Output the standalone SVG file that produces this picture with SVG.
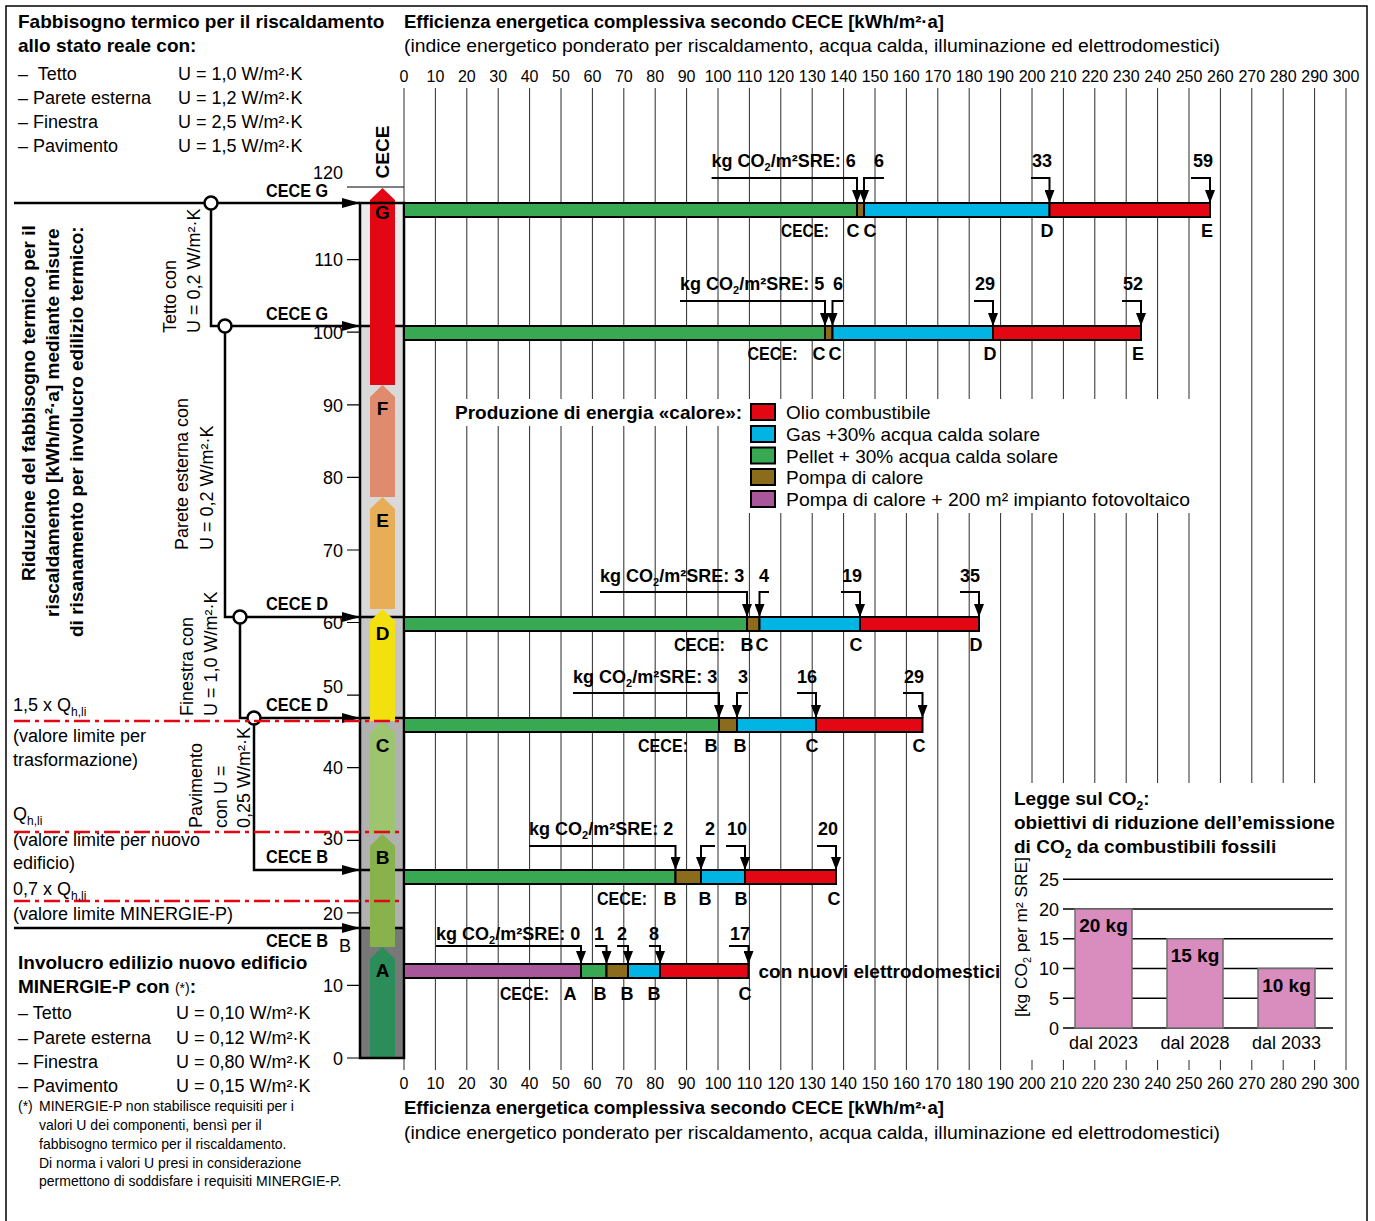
<svg xmlns="http://www.w3.org/2000/svg" width="1375" height="1221" viewBox="0 0 1375 1221">
<style>
text{font-family:"Liberation Sans",Arial,sans-serif;fill:#000}
.b{font-weight:bold}
.r18{font-size:18px}
.b19{font-size:19px;font-weight:bold}
.ax{font-size:16px;text-anchor:middle}
.tk{font-size:18px;text-anchor:end}
.grid{stroke:#2b2b2b;stroke-width:1;fill:none}
.arr{stroke:#000;stroke-width:2.5;fill:none}
.brk{stroke:#000;stroke-width:2;fill:none}
.bar{stroke:#000;stroke-width:2}
.red{fill:#e30613}.blu{fill:#00b4e3}.grn{fill:#38a852}.brn{fill:#8b6c1c}.pur{fill:#a9579b}
.dash{stroke:#e30613;stroke-width:2.5;stroke-dasharray:16 5 4 5;fill:none}
.kg{font-size:18px;font-weight:bold}
.lt{font-size:18px;font-weight:bold;text-anchor:middle}
.ce{font-size:18px;font-weight:bold}
.sub{font-size:11px}
.circ{fill:#fff;stroke:#000;stroke-width:2.5}
.co2bar{fill:#d98dbf;stroke:#6e6e6e;stroke-width:1.5}
</style>
<defs>
<marker id="ah" markerUnits="userSpaceOnUse" viewBox="0 0 18 10" refX="18" refY="5" markerWidth="18" markerHeight="10" orient="auto"><path d="M0,0L18,5L0,10z" fill="#000"/></marker>
<marker id="dn" markerUnits="userSpaceOnUse" viewBox="0 0 13 10" refX="13" refY="5" markerWidth="13" markerHeight="10" orient="auto"><path d="M0,0L13,5L0,10z" fill="#000"/></marker>
</defs>
<rect x="6" y="6" width="1361" height="1230" fill="#fff" stroke="#000" stroke-width="1.5"/>

<g id="grid">
<path class="grid" d="M404 88V1070M435.4 88V1070M466.8 88V1070M498.2 88V1070M529.6 88V1070M561 88V1070M592.4 88V1070M623.8 88V1070M655.2 88V1070M686.6 88V1070M718 88V1070M749.4 88V1070M780.8 88V1070M812.2 88V1070M843.6 88V1070M875 88V1070M906.4 88V1070M937.8 88V1070M969.2 88V1070M1000.6 88V1070M1032 88V1070M1063.4 88V1070M1094.8 88V1070M1126.2 88V1070M1157.6 88V1070M1189 88V1070M1220.4 88V1070M1251.8 88V1070M1283.2 88V1070M1314.6 88V1070M1346 88V1070"/>
<rect x="449" y="399" width="300" height="27" fill="#fff"/>
<rect x="745" y="399" width="452" height="114" fill="#fff"/>
<rect x="1004" y="783" width="340" height="277" fill="#fff"/>
</g>

<g id="axis-top">
<text class="b" x="404" y="28" font-size="18" textLength="540" lengthAdjust="spacingAndGlyphs">Efficienza energetica complessiva secondo CECE [kWh/m²·a]</text>
<text x="404" y="52" font-size="18" textLength="816" lengthAdjust="spacingAndGlyphs">(indice energetico ponderato per riscaldamento, acqua calda, illuminazione ed elettrodomestici)</text>
<g class="ax">
<text x="404" y="82">0</text><text x="435.4" y="82">10</text><text x="466.8" y="82">20</text><text x="498.2" y="82">30</text><text x="529.6" y="82">40</text><text x="561" y="82">50</text><text x="592.4" y="82">60</text><text x="623.8" y="82">70</text><text x="655.2" y="82">80</text><text x="686.6" y="82">90</text><text x="718" y="82">100</text><text x="749.4" y="82">110</text><text x="780.8" y="82">120</text><text x="812.2" y="82">130</text><text x="843.6" y="82">140</text><text x="875" y="82">150</text><text x="906.4" y="82">160</text><text x="937.8" y="82">170</text><text x="969.2" y="82">180</text><text x="1000.6" y="82">190</text><text x="1032" y="82">200</text><text x="1063.4" y="82">210</text><text x="1094.8" y="82">220</text><text x="1126.2" y="82">230</text><text x="1157.6" y="82">240</text><text x="1189" y="82">250</text><text x="1220.4" y="82">260</text><text x="1251.8" y="82">270</text><text x="1283.2" y="82">280</text><text x="1314.6" y="82">290</text><text x="1346" y="82">300</text>
</g>
</g>

<g id="axis-bottom">
<g class="ax">
<text x="404" y="1089">0</text><text x="435.4" y="1089">10</text><text x="466.8" y="1089">20</text><text x="498.2" y="1089">30</text><text x="529.6" y="1089">40</text><text x="561" y="1089">50</text><text x="592.4" y="1089">60</text><text x="623.8" y="1089">70</text><text x="655.2" y="1089">80</text><text x="686.6" y="1089">90</text><text x="718" y="1089">100</text><text x="749.4" y="1089">110</text><text x="780.8" y="1089">120</text><text x="812.2" y="1089">130</text><text x="843.6" y="1089">140</text><text x="875" y="1089">150</text><text x="906.4" y="1089">160</text><text x="937.8" y="1089">170</text><text x="969.2" y="1089">180</text><text x="1000.6" y="1089">190</text><text x="1032" y="1089">200</text><text x="1063.4" y="1089">210</text><text x="1094.8" y="1089">220</text><text x="1126.2" y="1089">230</text><text x="1157.6" y="1089">240</text><text x="1189" y="1089">250</text><text x="1220.4" y="1089">260</text><text x="1251.8" y="1089">270</text><text x="1283.2" y="1089">280</text><text x="1314.6" y="1089">290</text><text x="1346" y="1089">300</text>
</g>
<text class="b" x="404" y="1114" font-size="18" textLength="540" lengthAdjust="spacingAndGlyphs">Efficienza energetica complessiva secondo CECE [kWh/m²·a]</text>
<text x="404" y="1139" font-size="18" textLength="816" lengthAdjust="spacingAndGlyphs">(indice energetico ponderato per riscaldamento, acqua calda, illuminazione ed elettrodomestici)</text>
</g>

<g id="title-left">
<text class="b19" x="18" y="28">Fabbisogno termico per il riscaldamento</text>
<text class="b19" x="18" y="52">allo stato reale con:</text>
<g class="r18">
<text x="18" y="80">–&#160; Tetto</text><text x="178" y="80">U = 1,0 W/m²·K</text>
<text x="18" y="104">– Parete esterna</text><text x="178" y="104">U = 1,2 W/m²·K</text>
<text x="18" y="127.5">– Finestra</text><text x="178" y="127.5">U = 2,5 W/m²·K</text>
<text x="18" y="151.5">– Pavimento</text><text x="178" y="151.5">U = 1,5 W/m²·K</text>
</g>
</g>

<g id="title-vertical">
<text class="b19" transform="translate(34.5,581) rotate(-90)">Riduzione del fabbisogno termico per il</text>
<text class="b19" transform="translate(58.5,617) rotate(-90)">riscaldamento [kWh/m²·a] mediante misure</text>
<text class="b19" transform="translate(82.5,637) rotate(-90)">di risanamento per involucro edilizio termico:</text>
</g>

<g id="column">
<rect x="360" y="203" width="44" height="123" fill="#ebebeb"/>
<rect x="360" y="326" width="44" height="291" fill="#d9d9d9"/>
<rect x="360" y="617" width="44" height="101" fill="#c6c6c6"/>
<rect x="360" y="718" width="44" height="210" fill="#b1b1b1"/>
<rect x="360" y="928" width="44" height="130" fill="#787878"/>
<path d="M360 326H404M360 617H404M360 718H404M360 870H404M360 928H404" stroke="#000" stroke-width="2.5"/>
<polygon points="370,200 382.5,188 395,200 395,385 370,385" fill="#e30613"/>
<polygon points="370,397 382.5,385 395,397 395,497 370,497" fill="#e08b6e"/>
<polygon points="370,509 382.5,497 395,509 395,609 370,609" fill="#e8ae57"/>
<polygon points="370,621 382.5,609 395,621 395,721 370,721" fill="#f2e10f"/>
<polygon points="370,733 382.5,721 395,733 395,834 370,834" fill="#9dc56f"/>
<polygon points="370,846 382.5,834 395,846 395,947 370,947" fill="#88b24c"/>
<polygon points="370,959 382.5,947 395,959 395,1057 370,1057" fill="#2a8d5a"/>
<rect x="360" y="203" width="44" height="855" fill="none" stroke="#000" stroke-width="2.5"/>
<g class="b19" text-anchor="middle">
<text x="382.5" y="219">G</text><text x="382.5" y="415">F</text><text x="382.5" y="527">E</text><text x="382.5" y="640">D</text><text x="382.5" y="752">C</text><text x="382.5" y="864">B</text><text x="382.5" y="977">A</text>
</g>
<text class="b19" transform="translate(389,152) rotate(-90)" text-anchor="middle">CECE</text>
<path d="M347 187H404M347 259.6H360M347 332.2H360M347 404.8H360M347 477.4H360M347 550H360M347 622.5H360M347 695.1H360M347 767.7H360M347 840.3H360M347 912.8H360M347 985.4H360M347 1058H360" stroke="#000" stroke-width="1.2"/>
<g class="tk">
<text x="343" y="179">120</text><text x="343" y="266">110</text><text x="343" y="339">100</text><text x="343" y="411.5">90</text><text x="343" y="484">80</text><text x="343" y="556.5">70</text><text x="343" y="629">60</text><text x="343" y="693">50</text><text x="343" y="774">40</text><text x="343" y="845">30</text><text x="343" y="919.5">20</text><text x="343" y="992">10</text><text x="343" y="1064.5">0</text>
</g>
</g>

<g id="connectors">
<path class="arr" d="M14 203H360" marker-end="url(#ah)"/>
<path class="arr" d="M211 203V326H360" marker-end="url(#ah)"/>
<path class="arr" d="M225 326V617H360" marker-end="url(#ah)"/>
<path class="arr" d="M240 617V718H360" marker-end="url(#ah)"/>
<path class="arr" d="M254 718V870H360" marker-end="url(#ah)"/>
<path class="arr" d="M14 928H360" marker-end="url(#ah)"/>
<circle class="circ" cx="211" cy="203" r="6.5"/>
<circle class="circ" cx="225" cy="326" r="6.5"/>
<circle class="circ" cx="240" cy="617" r="6.5"/>
<circle class="circ" cx="254" cy="718" r="6.5"/>
<path class="dash" d="M14 721H404M14 832H404M14 901H404"/>
<g class="brk" marker-end="url(#dn)">
<path d="M711.6 178H857V203"/><path d="M884 178H864V203"/><path d="M1031 178H1049.5V203"/><path d="M1191 178H1210V203"/>
<path d="M680 301H825V326"/><path d="M843 301H832.5V326"/><path d="M974 301H993V326"/><path d="M1122 301H1141V326"/>
<path d="M600 592H747V617"/><path d="M769 592H759.5V617"/><path d="M841 592H860V617"/><path d="M960 592H979V617"/>
<path d="M573 693H719V718"/><path d="M748 693H737V718"/><path d="M797 693H816V718"/><path d="M903 693H922.5V718"/>
<path d="M529 846H675.5V870"/><path d="M715 846H701V870"/><path d="M726 846H745V870"/><path d="M817 846H836V870"/>
<path d="M436 946H581V964"/><path d="M595 946H606.5V964"/><path d="M617 946H628V964"/><path d="M649 946H660V964"/><path d="M729 946H748.5V964"/>
</g>
</g>

<g id="labels-left">
<g class="ce">
<text x="328" y="197" text-anchor="end" textLength="62" lengthAdjust="spacingAndGlyphs">CECE G</text>
<text x="328" y="320" text-anchor="end" textLength="62" lengthAdjust="spacingAndGlyphs">CECE G</text>
<text x="328" y="610" text-anchor="end" textLength="62" lengthAdjust="spacingAndGlyphs">CECE D</text>
<text x="328" y="711" text-anchor="end" textLength="62" lengthAdjust="spacingAndGlyphs">CECE D</text>
<text x="328" y="863" text-anchor="end" textLength="62" lengthAdjust="spacingAndGlyphs">CECE B</text>
<text x="328" y="947" text-anchor="end" textLength="62" lengthAdjust="spacingAndGlyphs">CECE B</text>
</g>
<text class="r18" x="345" y="952" text-anchor="middle">B</text>
<g class="r18">
<text transform="translate(176,333) rotate(-90)">Tetto con</text>
<text transform="translate(200,333) rotate(-90)">U = 0,2 W/m²·K</text>
<text transform="translate(188,550) rotate(-90)">Parete esterna con</text>
<text transform="translate(213,550) rotate(-90)">U = 0,2 W/m²·K</text>
<text transform="translate(193,716) rotate(-90)">Finestra con</text>
<text transform="translate(217,716) rotate(-90)">U = 1,0 W/m²·K</text>
<text transform="translate(202,828) rotate(-90)">Pavimento</text>
<text transform="translate(227,828) rotate(-90)">con U =</text>
<text transform="translate(250,828) rotate(-90)">0,25 W/m²·K</text>
<text x="13" y="711">1,5 x Q<tspan font-size="12" dy="5">h,li</tspan></text>
<text x="13" y="742">(valore limite per</text>
<text x="13" y="766">trasformazione)</text>
<text x="13" y="820">Q<tspan font-size="12" dy="5">h,li</tspan></text>
<text x="13" y="846">(valore limite per nuovo</text>
<text x="13" y="869">edificio)</text>
<text x="13" y="894.5">0,7 x Q<tspan font-size="12" dy="5">h,li</tspan></text>
<text x="13" y="919.5">(valore limite MINERGIE-P)</text>
</g>
</g>

<g id="minergie">
<text class="b19" x="18" y="969">Involucro edilizio nuovo edificio</text>
<text class="b19" x="18" y="993">MINERGIE-P con <tspan font-weight="normal" font-size="14">(*)</tspan>:</text>
<g class="r18">
<text x="18" y="1019">– Tetto</text><text x="176" y="1019">U = 0,10 W/m²·K</text>
<text x="18" y="1043.5">– Parete esterna</text><text x="176" y="1043.5">U = 0,12 W/m²·K</text>
<text x="18" y="1068">– Finestra</text><text x="176" y="1068">U = 0,80 W/m²·K</text>
<text x="18" y="1092">– Pavimento</text><text x="176" y="1092">U = 0,15 W/m²·K</text>
</g>
<g font-size="14">
<text x="18" y="1111">(*)</text>
<text x="39" y="1111">MINERGIE-P non stabilisce requisiti per i</text>
<text x="39" y="1130">valori U dei componenti, bensì per il</text>
<text x="39" y="1149">fabbisogno termico per il riscaldamento.</text>
<text x="39" y="1167.5">Di norma i valori U presi in considerazione</text>
<text x="39" y="1186">permettono di soddisfare i requisiti MINERGIE-P.</text>
</g>
</g>

<g id="bar-1">
<rect class="bar grn" x="404" y="203" width="453" height="14"/>
<rect class="bar brn" x="857" y="203" width="7" height="14"/>
<rect class="bar blu" x="864" y="203" width="185.5" height="14"/>
<rect class="bar red" x="1049.5" y="203" width="160.5" height="14"/>
<text class="kg" x="711.6" y="167">kg CO<tspan class="sub" dy="4">2</tspan><tspan dy="-4">/m²SRE: 6</tspan></text>
<g class="lt"><text x="879" y="167">6</text><text x="1042" y="167">33</text><text x="1203" y="167">59</text>
<text x="853" y="237">C</text><text x="870" y="237">C</text><text x="1047" y="237">D</text><text x="1207" y="237">E</text></g>
<text class="ce" x="781" y="237" textLength="48" lengthAdjust="spacingAndGlyphs">CECE:</text>
</g>

<g id="bar-2">
<rect class="bar grn" x="404" y="326" width="421" height="14"/>
<rect class="bar brn" x="825" y="326" width="7.5" height="14"/>
<rect class="bar blu" x="832.5" y="326" width="160.5" height="14"/>
<rect class="bar red" x="993" y="326" width="148" height="14"/>
<text class="kg" x="680" y="290">kg CO<tspan class="sub" dy="4">2</tspan><tspan dy="-4">/m²SRE: 5</tspan></text>
<g class="lt"><text x="838" y="290">6</text><text x="985" y="290">29</text><text x="1133" y="290">52</text>
<text x="819" y="360">C</text><text x="835" y="360">C</text><text x="990" y="360">D</text><text x="1138" y="360">E</text></g>
<text class="ce" x="747.5" y="360" textLength="50" lengthAdjust="spacingAndGlyphs">CECE:</text>
</g>

<g id="bar-3">
<rect class="bar grn" x="404" y="617" width="343" height="14"/>
<rect class="bar brn" x="747" y="617" width="12.5" height="14"/>
<rect class="bar blu" x="759.5" y="617" width="100.5" height="14"/>
<rect class="bar red" x="860" y="617" width="119" height="14"/>
<text class="kg" x="600" y="582">kg CO<tspan class="sub" dy="4">2</tspan><tspan dy="-4">/m²SRE: 3</tspan></text>
<g class="lt"><text x="764" y="582">4</text><text x="852" y="582">19</text><text x="970" y="582">35</text>
<text x="747" y="651">B</text><text x="762" y="651">C</text><text x="856" y="651">C</text><text x="976" y="651">D</text></g>
<text class="ce" x="674" y="651" textLength="51" lengthAdjust="spacingAndGlyphs">CECE:</text>
</g>

<g id="bar-4">
<rect class="bar grn" x="404" y="718" width="315" height="14"/>
<rect class="bar brn" x="719" y="718" width="18" height="14"/>
<rect class="bar blu" x="737" y="718" width="79" height="14"/>
<rect class="bar red" x="816" y="718" width="106.5" height="14"/>
<text class="kg" x="573" y="683">kg CO<tspan class="sub" dy="4">2</tspan><tspan dy="-4">/m²SRE: 3</tspan></text>
<g class="lt"><text x="743" y="683">3</text><text x="807" y="683">16</text><text x="914" y="683">29</text>
<text x="711" y="752">B</text><text x="740" y="752">B</text><text x="812" y="752">C</text><text x="919" y="752">C</text></g>
<text class="ce" x="638" y="752" textLength="50" lengthAdjust="spacingAndGlyphs">CECE:</text>
</g>

<g id="bar-5">
<rect class="bar grn" x="404" y="870" width="271.5" height="14"/>
<rect class="bar brn" x="675.5" y="870" width="25.5" height="14"/>
<rect class="bar blu" x="701" y="870" width="44" height="14"/>
<rect class="bar red" x="745" y="870" width="91" height="14"/>
<text class="kg" x="529" y="835">kg CO<tspan class="sub" dy="4">2</tspan><tspan dy="-4">/m²SRE: 2</tspan></text>
<g class="lt"><text x="710" y="835">2</text><text x="737" y="835">10</text><text x="828" y="835">20</text>
<text x="670" y="905">B</text><text x="705" y="905">B</text><text x="741" y="905">B</text><text x="834" y="905">C</text></g>
<text class="ce" x="597" y="905" textLength="50" lengthAdjust="spacingAndGlyphs">CECE:</text>
</g>

<g id="bar-6">
<rect class="bar pur" x="404" y="964" width="177" height="14"/>
<rect class="bar grn" x="581" y="964" width="25.5" height="14"/>
<rect class="bar brn" x="606.5" y="964" width="21.5" height="14"/>
<rect class="bar blu" x="628" y="964" width="32" height="14"/>
<rect class="bar red" x="660" y="964" width="88.5" height="14"/>
<text class="kg" x="436" y="940">kg CO<tspan class="sub" dy="4">2</tspan><tspan dy="-4">/m²SRE: 0</tspan></text>
<g class="lt"><text x="599" y="940">1</text><text x="622" y="940">2</text><text x="654" y="940">8</text><text x="740" y="940">17</text>
<text x="570" y="1000">A</text><text x="600" y="1000">B</text><text x="627" y="1000">B</text><text x="654" y="1000">B</text><text x="745" y="1000">C</text></g>
<text class="ce" x="500" y="1000" textLength="49" lengthAdjust="spacingAndGlyphs">CECE:</text>
<text class="b19" x="758.5" y="978">con nuovi elettrodomestici</text>
</g>

<g id="legend">
<text class="b19" x="455" y="419">Produzione di energia «calore»:</text>
<rect class="bar red" x="751" y="404" width="24" height="16"/>
<rect class="bar blu" x="751" y="426" width="24" height="16"/>
<rect class="bar grn" x="751" y="447.5" width="24" height="16"/>
<rect class="bar brn" x="751" y="469" width="24" height="16"/>
<rect class="bar pur" x="751" y="491" width="24" height="16"/>
<g font-size="19">
<text x="786" y="419">Olio combustibile</text>
<text x="786" y="441">Gas +30% acqua calda solare</text>
<text x="786" y="462.5">Pellet + 30% acqua calda solare</text>
<text x="786" y="484">Pompa di calore</text>
<text x="786" y="506" textLength="404" lengthAdjust="spacingAndGlyphs">Pompa di calore + 200 m² impianto fotovoltaico</text>
</g>
</g>

<g id="co2-chart">
<text class="b19" x="1014" y="805">Legge sul CO<tspan font-size="12" dy="5">2</tspan><tspan dy="-5">:</tspan></text>
<text class="b19" x="1014" y="829">obiettivi di riduzione dell’emissione</text>
<text class="b19" x="1014" y="853">di CO<tspan font-size="12" dy="5">2</tspan><tspan dy="-5"> da combustibili fossili</tspan></text>
<path d="M1063 879.25H1333M1063 909H1333M1063 938.75H1333M1063 968.5H1333M1063 998.25H1333M1063 1028H1333" stroke="#000" stroke-width="1.3"/>
<rect class="co2bar" x="1075" y="909" width="57" height="119"/>
<rect class="co2bar" x="1167" y="938.75" width="56" height="89.25"/>
<rect class="co2bar" x="1258" y="968.5" width="57" height="59.5"/>
<g class="tk">
<text x="1059" y="885.5">25</text><text x="1059" y="915.5">20</text><text x="1059" y="945">15</text><text x="1059" y="975">10</text><text x="1059" y="1004.5">5</text><text x="1059" y="1034.5">0</text>
</g>
<text font-size="16" transform="translate(1027,1017) rotate(-90)" textLength="160" lengthAdjust="spacingAndGlyphs">[kg CO<tspan font-size="10" dy="4">2</tspan><tspan dy="-4"> per m² SRE]</tspan></text>
<g class="b19" text-anchor="middle">
<text x="1103.5" y="932">20 kg</text><text x="1195" y="962">15 kg</text><text x="1286.5" y="992">10 kg</text>
</g>
<g class="r18" text-anchor="middle">
<text x="1103.5" y="1049">dal 2023</text><text x="1195" y="1049">dal 2028</text><text x="1286.5" y="1049">dal 2033</text>
</g>
</g>
</svg>
